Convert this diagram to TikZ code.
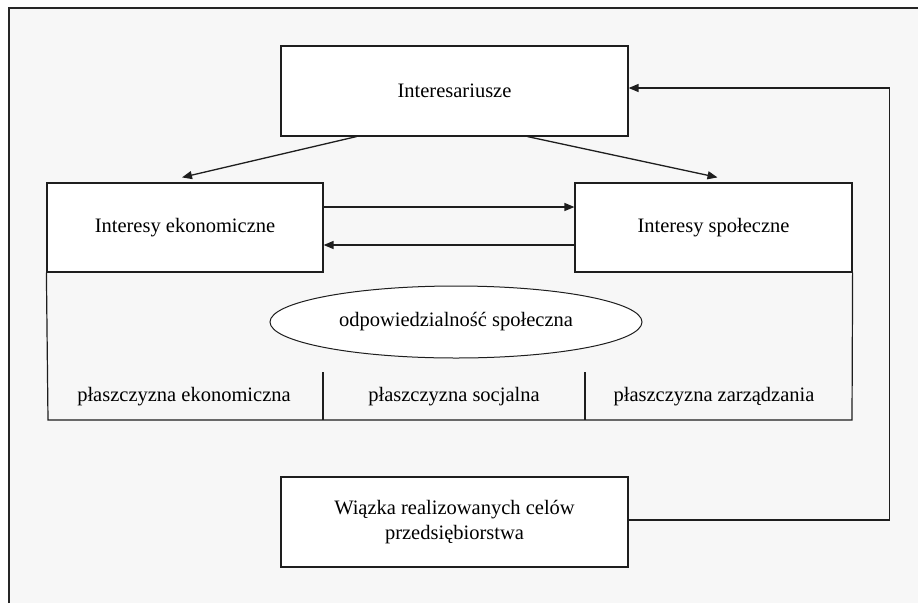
\documentclass[tikz,border=0pt]{standalone}
\usepackage{fontspec}
\setmainfont{Liberation Serif}
\usetikzlibrary{arrows.meta,shapes.geometric}
\definecolor{bgc}{RGB}{247,247,247}
\definecolor{ln}{RGB}{30,30,30}
\begin{document}
\begin{tikzpicture}[x=1pt,y=-1pt,
  box/.style={draw=ln,line width=1.2pt,fill=white,inner sep=0pt,align=center,
    font=\fontsize{20.5}{25}\selectfont},
  lbl/.style={inner sep=0pt,font=\fontsize{20.5}{25}\selectfont},
  arr/.style={draw=ln,line width=1.3pt,-{Triangle[length=10pt,width=8pt]}},
  ln/.style={draw=ln,line width=1.2pt}]
\useasboundingbox (0,0) rectangle (918,603);
\fill[white] (0,0) rectangle (918,603);
\fill[bgc] (9,8) rectangle (918,603);
\draw[line width=2pt,color=black!85] (9,603) -- (9,8) -- (918,8);
% boxes
\node[box,minimum width=347pt,minimum height=90pt] (top) at (454.5,91) {Interesariusze};
\node[box,minimum width=276pt,minimum height=89pt] (left) at (185,227.5) {Interesy ekonomiczne};
\node[box,minimum width=277pt,minimum height=89pt] (right) at (713.5,227.5) {Interesy społeczne};
\node[box,minimum width=347pt,minimum height=90pt] (bottom) at (454.5,522) {Wiązka realizowanych celów\\przedsiębiorstwa};
% region
\coordinate (bl) at (48,420);
\coordinate (br) at (852,420);
\draw[ln] (left.south west) -- (bl) -- (br) -- (right.south east);
\coordinate (d1t) at (323,372);
\coordinate (d1b) at (323,420);
\coordinate (d2t) at (585,372);
\coordinate (d2b) at (585,420);
\draw[ln] (d1t) -- (d1b);
\draw[ln] (d2t) -- (d2b);
\node[box,ellipse,minimum width=372pt,minimum height=72pt,line width=1pt] (ell) at (456,322) {odpowiedzialność społeczna};
\node[lbl] (p1) at (184,397) {płaszczyzna ekonomiczna};
\node[lbl] (p2) at (454,397) {płaszczyzna socjalna};
\node[lbl] (p3) at (714,397) {płaszczyzna zarządzania};
% arrows
\draw[arr] ([xshift=76pt]top.south west) -- ([xshift=-3pt,yshift=5pt]left.north);
\draw[arr] ([xshift=-101pt]top.south east) -- ([xshift=4pt,yshift=5pt]right.north);
\draw[arr] ([yshift=20.5pt]left.east) -- ([yshift=20.5pt]right.west);
\draw[arr] ([yshift=-17.5pt]right.west) -- ([yshift=-17.5pt]left.east);
\draw[arr] ([yshift=2pt]bottom.east) -- ++(261,0) |- ([yshift=3pt]top.east);
\end{tikzpicture}
\end{document}
